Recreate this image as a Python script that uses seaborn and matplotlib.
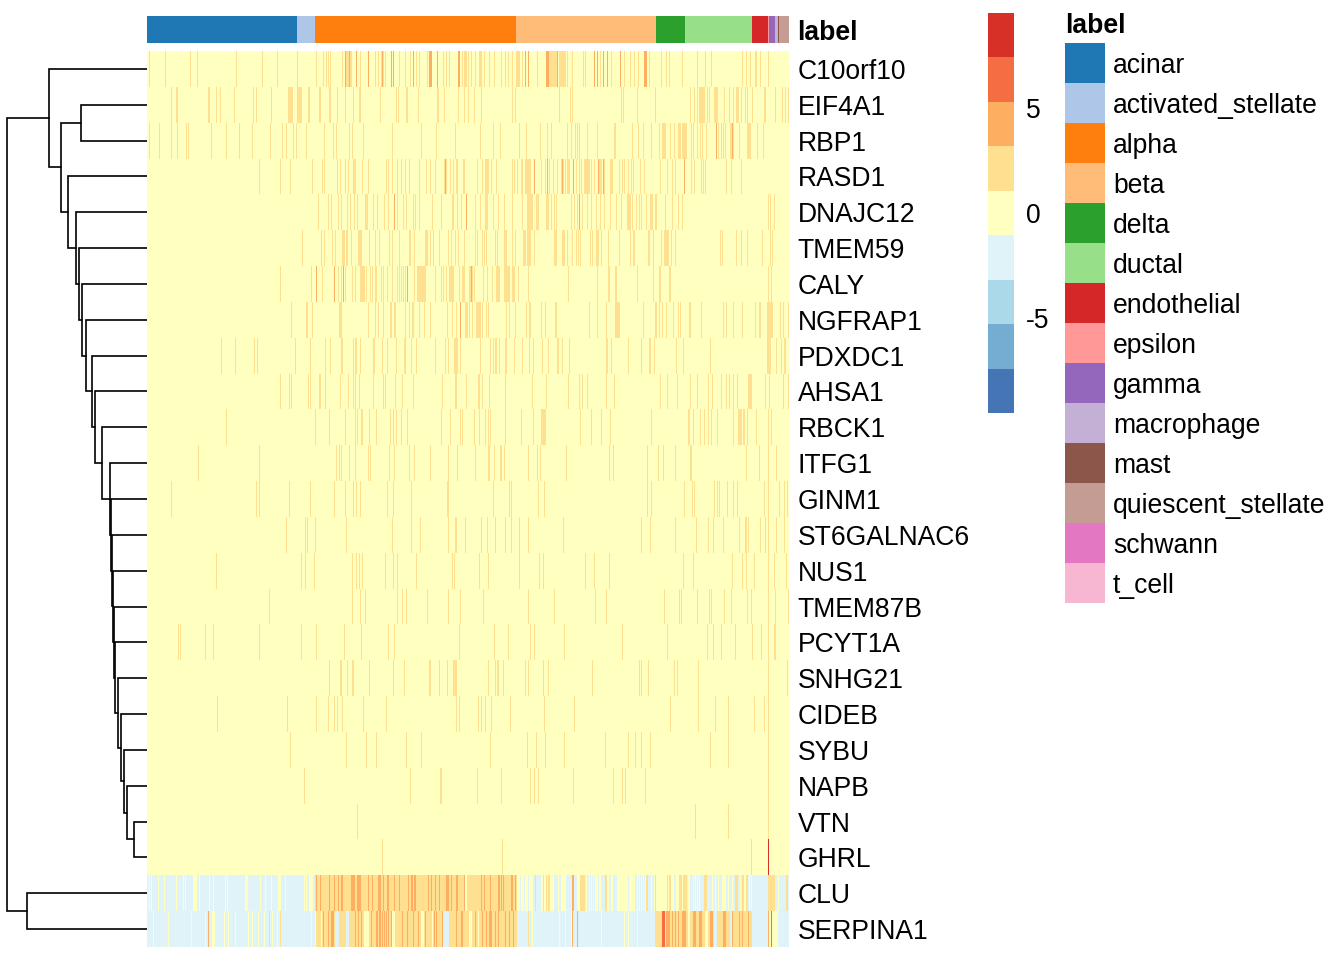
import numpy as np
import pandas as pd
import matplotlib
matplotlib.use('Agg')
import matplotlib.pyplot as plt
import seaborn as sns
from matplotlib.colors import ListedColormap

# gene rows, top to bottom
genes = ['C10orf10', 'EIF4A1', 'RBP1', 'RASD1', 'DNAJC12', 'TMEM59', 'CALY', 'NGFRAP1', 'PDXDC1',
         'AHSA1', 'RBCK1', 'ITFG1', 'GINM1', 'ST6GALNAC6', 'NUS1', 'TMEM87B', 'PCYT1A', 'SNHG21',
         'CIDEB', 'SYBU', 'NAPB', 'VTN', 'GHRL', 'CLU', 'SERPINA1']

# cell types along the top bar, and how many columns each one has
cell_types = ['acinar', 'activated_stellate', 'alpha', 'beta', 'delta', 'ductal', 'endothelial',
              'epsilon', 'gamma', 'macrophage', 'mast', 'quiescent_stellate', 'schwann', 't_cell']
type_counts = [150, 18, 201, 140, 29, 67, 16, 1, 6, 3, 1, 10, 0, 0]
type_colors = ['#1f77b4', '#aec7e8', '#ff7f0e', '#ffbb78', '#2ca02c', '#98df8a', '#d62728',
               '#ff9896', '#9467bd', '#c5b0d5', '#8c564b', '#c49c94', '#e377c2', '#f7b6d2']
heat_colors = ['#4575b4', '#74add1', '#abd9e9', '#e0f3f8', '#ffffbf', '#fee090', '#fdae61', '#f46d43', '#d73027']

# columns that stand out per gene, a tuple is a run of neighbours
C10orf10_warm = [2, 18, 43, 50, 89, 115, 130, 150, 169, 176, 179, 181, 183, 195, (198, 203), 204, 213, 228, 231,
                 (234, 236), 238, 252, 258, 263, 269, 272, 280, 296, 299, 302, 315, (317, 319), 321, 324, 328,
                 (332, 334), 337, 342, 347, 354, 358, 361, 365, (369, 372), 375, 390, (402, 406), (407, 409),
                 (412, 418), 420, 425, 436, 438, 453, 464, 477, 483, 487, 491, 502, 514, 519, 522, 535, 550,
                 558, 564, 595, 599, 603, 608, 609, 613, 621]
C10orf10_hot = [198, 202, 209, 221, 235, 244, 246, 266, (282, 284), 290, 311, 312, 378, 381, (399, 401), 410, 447,
                450, 456, 460, 473, (497, 499)]
EIF4A1_warm = [24, 29, 30, 61, 62, 69, 73, 87, 106, 109, 124, (141, 145), (150, 153), 154, 161, 162, 172, 173, 182,
               183, 190, 198, 206, 212, 213, 233, 249, 251, 259, 260, 271, 290, 291, 297, 311, 317, 321, 327, 334,
               365, 368, 412, 423, 425, 474, 476, 490, 508, 543, 547, 550, (552, 557), 560, 562, (567, 570), 577,
               582, 586, (589, 591), 594, 598, 600, 605, 617, 618, 628, 635, 638, 641]
RBP1_warm = [2, 12, 24, 30, 39, 41, 64, 79, 92, 105, 123, 135, 139, 146, 149, 159, 177, 186, 189, 202, 205, 216, 245,
             274, 289, 308, 333, 346, 353, 372, 379, 393, 400, 404, 420, 424, 428, 430, 432, 440, 450, 467, 468,
             485, 491, 496, 504, 512, (515, 518), 523, 527, (531, 533), (535, 539), 544, 546, 550, 553, 555, 559,
             571, 574, 576, 578, 583, 584, 586, 592, (600, 603), 610, 616]
RBP1_hot = [569, 585]
RASD1_warm = [112, 133, 143, 165, 175, 177, 190, 193, 198, 201, (206, 208), 215, 221, 239, 241, 245, 250, 254, 258,
              262, 272, 279, 283, 288, (297, 299), 303, 306, 309, 310, 316, 317, 330, 335, (338, 341), 344, 349, 365,
              367, 370, 374, 375, (378, 383), 394, 398, 402, 406, 410, (414, 416), 418, (420, 422), 429, 432, 434,
              (437, 442), 444, 447, (452, 454), 457, (463, 465), 472, 475, 477, 481, 484, 486, 493, 497, 513, 520,
              525, 528, 544, 547, 554, 556, 558, 579, 584, 594]
RASD1_hot = [298, 387, 400, 415, 426, 451, 456, 537]
DNAJC12_warm = [171, 181, 184, 191, 194, 200, 203, 207, 210, (218, 220), 226, 230, 237, 241, 250, 256, 259, 266, 268,
                272, 285, 294, 305, 306, 310, 314, 328, 333, (338, 340), 346, 351, 357, 365, 375, (380, 385),
                (389, 391), (399, 401), 404, 407, 409, 424, 427, 430, 435, 440, 444, 449, 453, 457, 463, 469, 474,
                (480, 483), 485, 489, 492, 494, 499, (503, 505), 508, 509, 518, 525, 531, 535, 621, 623, 627]
DNAJC12_hot = [247, 319, 432]
TMEM59_warm = [155, 174, 177, 185, 188, (195, 197), 199, 200, 204, (211, 214), 222, 228, 232, 242, 245, 252, 262, 263,
               267, (278, 280), 283, 286, 292, 301, 304, 308, 311, 317, 328, 330, 335, 337, 339, 348, 350, (357, 359),
               365, 368, (376, 378), (380, 383), 387, (407, 409), (415, 417), 420, 425, 429, 431, 433, 443, 445,
               (449, 451), 454, 461, 472, 483, 486, 487, 501, 502, 506, 514, (517, 521), 524, 528, 573, 575, 589, 594,
               600, 615, 623, 625]
CALY_warm = [133, 164, 175, 191, 194, 198, 205, 208, (213, 217), 219, 223, 225, 228, 229, 234, 236, 240, 245, 250, 252,
             254, 256, 258, 267, (270, 278), 288, 294, 296, 299, (302, 306), 312, (315, 317), (322, 325), 327, 336, 340,
             345, (349, 352), (357, 362), (365, 367), 371, 381, 421, 450, 461, 462, 468, 469, 490, 506, 512, 513, 522,
             523, 621, 624]
CALY_hot = [169, 187, 196, 260, 324]
NGFRAP1_warm = [144, 159, 160, 165, (192, 194), 221, 228, 231, 236, 243, 244, 247, 248, 258, 262, 265, 266, 272, 277,
                283, 300, 305, 309, 318, (319, 320), 322, 325, (329, 333), 335, 339, 341, 359, 362, 368, 379, 382, 383,
                394, 398, 408, 409, 442, 450, 459, (468, 472), 496, 508, 509, 512, 515, 519, 526, 531, 533, 542, 543,
                554, 576, 579, 586, 595, 608, 612, 613, (620, 625), 633, 636, 641]
NGFRAP1_hot = [313]
PDXDC1_warm = [74, 88, 107, 110, 148, 163, 178, 183, 194, 195, 206, 208, 209, 213, 226, 227, 235, 240, 249, 257, 258,
               264, 269, 288, 298, 301, (307, 310), 313, 333, 343, 346, 348, 349, 352, 358, 359, 367, 375, 382, 386, 395,
               401, 410, 411, 415, 422, 459, 460, 464, 481, 494, 502, 503, 507, 529, 536, 563, (620, 623), 629, 634, 637,
               638]
AHSA1_warm = [133, 142, 144, 161, 163, 172, 173, 178, 193, 201, 206, 208, 212, 226, 236, 238, 248, 255, 266, 295, 308,
              309, 319, 331, 332, 335, 342, 358, 385, 399, 421, 432, 435, 440, 459, 467, 513, 520, 530, 543, 550, 561,
              565, 574, 579, 582, 586, 590, (601, 604), 618, 622, 636, 641]
RBCK1_warm = [79, 168, 182, 198, 208, 210, 214, 215, 222, 229, 243, 246, 249, 254, 260, 294, 303, 313, 315, 327, 332,
              338, 341, 343, 358, 374, 386, (394, 398), 433, 444, 454, 463, 504, 541, 542, 546, 553, 557, 561, 564, 570,
              586, (591, 594), 596, 597, 600, 609, 621, 624]
ITFG1_warm = [51, 112, 189, 192, 194, 202, 208, 221, 223, 242, 247, 262, 267, 283, 301, 310, 328, 341, 342, 347, 353,
              354, 357, 381, 390, 393, 419, 462, 466, 500, 511, 516, 528, 543, 544, 599, 612, 621, 629]
GINM1_warm = [24, 109, 112, 142, 163, 187, 198, 206, 209, 213, 240, 246, 264, 300, 301, 346, 362, 364, 391, 397, 500,
              504, 537, 545, 547, 567, 570, 572, 580, 586, 590, 617, 621, 632, 637, 640]
ST6GALNAC6_warm = [139, 158, 160, 168, 199, 245, 264, 273, 301, 308, 309, 318, 334, 340, 348, 358, 364, 372, 381, 416,
                   494, 503, 528, 549, 561, 566, 576, 592, 598, 599, 601, 613, 618, 621, 629, 637]
NUS1_warm = [69, 154, 158, 167, 205, 209, 212, 215, 238, 246, 250, 269, 305, 307, 332, 341, 372, 392, 396, 438, 447,
             462, 536, 546, 585, 595, 599, 607, 621, 627, 639]
TMEM87B_warm = [122, 205, 213, 218, 250, 255, 259, 280, 301, 313, 336, 381, 407, 448, 459, 517, 532, 534, 550, 562,
                564, 577, 584, 600, 604, 621, 628, 641]
PCYT1A_warm = [31, 33, 58, 66, 112, 154, 169, 197, 214, 241, 247, 312, 347, 361, 383, 387, 417, 475, 520, 560, 566,
               574, 588, 605, 614, 621, 627, 628]
SNHG21_warm = [182, 193, 194, 200, 205, 206, 222, 246, 257, 282, 283, 292, 300, (306, 309), 341, 348, 350, 351, 356,
               378, 381, 396, 401, 445, 492, 494, 501, 527, 530, 551, 621, 640]
CIDEB_warm = [70, 140, 169, 181, 187, 190, 195, 216, 239, 309, 312, 331, 334, 338, 344, 363, 397, 427, 523, 551, 568,
              581, 607, 617, 621]
SYBU_warm = [143, 199, 219, 229, 259, 274, 343, 380, 389, 398, 417, 458, 481, 488, 494, 503, 563, 581, 621]
NAPB_warm = [157, 263, 293, 294, 330, 354, 383, 387, 391, 426, 466, 475, 478, 498, 621]
VTN_warm = [210, 548, 581, 621]
GHRL_warm = [235, 355, 604]
GHRL_red = [621]

CLU_cool = [(0, 167), (370, 641)]
CLU_pale = [2, 4, 11, 17, 29, 36, 38, (46, 49), 52, 62, 66, 78, 80, (98, 100), 113, 118, 124, (131, 133), 138, 157,
            159, (162, 165), 318, 319, (370, 372), (374, 376), (378, 380), (382, 385), 394, 395, (397, 399), (403, 406),
            411, (414, 418), (430, 433), 439, 442, 444, 446, (448, 450), 452, 453, 460, 461, 464, 465, (470, 480),
            (482, 487), 490, 492, 494, 496, 498, 504, 507, (509, 519), 521, (524, 526), 529, 530, 531, 535, (541, 542),
            546, 548, 550, 552, 565, 568, 571, (575, 578), 581, 585, 593, 597, 598, 602, 604, 631]
CLU_warm = [(168, 317), (320, 369), 388, 396, 399, 401, 402, (433, 437), 458, 459, 499, 500, 508, 520, 522, 523,
            (532, 534), (536, 539), (557, 559), (588, 590), 595, 596, 599, 600, (621, 626), 627, 639, 640]
CLU_hot = [169, 173, 182, 187, 191, 194, 195, (204, 207), (210, 213), 221, 225, (231, 233), 236, 240, 241, 247, 252, 261,
           264, 265, 267, 268, 281, 284, 288, 292, (299, 301), 304, 309, 310, 317, 334, 337, 343, 351, 352, 354, 356, 364,
           365, 368, 425, 426]

SERPINA1_cool = [(0, 167), (188, 191), (199, 201), (296, 301), (370, 507), (567, 569), 583, 584, (605, 620), (631, 641)]
SERPINA1_pale = [6, 21, 44, 58, (65, 67), 77, 81, 88, 101, 105, 111, 117, 125, 130, 164, 168, 174, (217, 221), (245, 247),
                 (274, 276), 285, (322, 324), 331, 385, 412, 418, 424, 454, 477, 481, 490, 541, 542, (558, 560), (627, 630)]
SERPINA1_warm = [(169, 173), (175, 187), (192, 198), (202, 216), (222, 244), (248, 273), (277, 284), (286, 295), (302, 321),
                 (325, 369), 122, 133, 381, (508, 540), (543, 557), (561, 566), (570, 582), (585, 604)]
SERPINA1_hot = [61, 176, 181, (184, 186), 208, 211, 214, 224, 229, 230, 232, 233, 235, 237, 239, 241, 244, 255, 260, 266, 271,
                278, 287, 289, 295, 309, 314, 315, 328, 335, 339, (342, 344), 348, 351, 358, 362, 366, 425, 430, (519, 522),
                525, 528, 531, (535, 538), (546, 548), (552, 554), (563, 565), (576, 578), 585, 592, 595, 601, 621]
SERPINA1_deep = [(515, 517), 624]

warm_cols = [C10orf10_warm, EIF4A1_warm, RBP1_warm, RASD1_warm, DNAJC12_warm, TMEM59_warm, CALY_warm, NGFRAP1_warm,
             PDXDC1_warm, AHSA1_warm, RBCK1_warm, ITFG1_warm, GINM1_warm, ST6GALNAC6_warm, NUS1_warm, TMEM87B_warm,
             PCYT1A_warm, SNHG21_warm, CIDEB_warm, SYBU_warm, NAPB_warm, VTN_warm, GHRL_warm]
hot_cols = {'C10orf10': C10orf10_hot, 'RBP1': RBP1_hot, 'RASD1': RASD1_hot, 'DNAJC12': DNAJC12_hot,
            'CALY': CALY_hot, 'NGFRAP1': NGFRAP1_hot}

# row dendrogram, like a linkage table: child, child, height. 25+k is the k-th merge
merge_a = [21, 20, 19, 18, 17, 16, 15, 14, 13, 12, 11, 10, 9, 8, 7, 6, 5, 4, 1, 3, 43, 0, 23, 46]
merge_b = [22, 25, 26, 27, 28, 29, 30, 31, 32, 33, 34, 35, 36, 37, 38, 39, 40, 41, 2, 42, 44, 45, 24, 47]
merge_h = [12.7, 19.7, 23.3, 26, 29, 32, 33, 34, 35, 36, 37, 44.7, 52.3, 54.7, 61.3, 64.7, 67.7, 70.7, 66, 79, 86.3, 98.3, 120, 140]

COOL, WARM, HOT, DEEP, RED = -2.0, 2.0, 4.0, 6.0, 8.5
LIMIT = 9.56


def put(row, cols, value):
    for c in cols:
        if isinstance(c, tuple):
            values[row, c[0]:c[1] + 1] = value
        else:
            values[row, c] = value


n_cols = sum(type_counts)
values = np.zeros((len(genes), n_cols))
for i, cols in enumerate(warm_cols):
    put(i, cols, WARM)
for name, cols in hot_cols.items():
    put(genes.index(name), cols, HOT)
put(genes.index('GHRL'), GHRL_red, RED)
clu = genes.index('CLU')
put(clu, CLU_cool, COOL)
put(clu, CLU_pale, 0)
put(clu, CLU_warm, WARM)
put(clu, CLU_hot, HOT)
serp = genes.index('SERPINA1')
put(serp, SERPINA1_cool, COOL)
put(serp, SERPINA1_warm, WARM)
put(serp, SERPINA1_pale, 0)
put(serp, SERPINA1_hot, HOT)
put(serp, SERPINA1_deep, DEEP)
expr = pd.DataFrame(values, index=genes)

sns.set_style('white')
plt.rcParams['font.family'] = ['Liberation Sans', 'DejaVu Sans']
plt.rcParams['axes.unicode_minus'] = False
plt.rcParams['text.color'] = 'black'
plt.rcParams['ytick.color'] = 'black'
plt.rcParams['axes.labelcolor'] = 'black'

W, H = 1344, 960
FS = 19.1
fig = plt.figure(figsize=(W / 100, H / 100), dpi=100)


def px_axes(x0, y0, x1, y1):
    # pixel box measured from the top left of the picture
    return fig.add_axes([x0 / W, 1 - y1 / H, (x1 - x0) / W, (y1 - y0) / H])


ax_heat = px_axes(147, 51, 789, 947)
ax_top = px_axes(147, 16, 789, 43)
ax_tree = px_axes(0, 51, 147, 947)
ax_bar = px_axes(988, 13, 1014, 413)
ax_leg = px_axes(1065, 43, 1105, 603)

sns.heatmap(expr, ax=ax_heat, cmap=ListedColormap(heat_colors), vmin=-LIMIT, vmax=LIMIT,
            xticklabels=False, yticklabels=True, cbar_ax=ax_bar, cbar_kws={'ticks': [-5, 0, 5]})
ax_heat.yaxis.tick_right()
ax_heat.tick_params(axis='y', length=0, pad=6.2, labelsize=FS, labelrotation=0)
ax_heat.set_xlabel('')
ax_heat.set_ylabel('')

ax_bar.tick_params(length=0, pad=8.5, labelsize=FS, labelcolor='black')

type_cmap = ListedColormap(type_colors)
top_row = np.repeat(np.arange(len(cell_types)), type_counts)[None, :]
sns.heatmap(top_row, ax=ax_top, cmap=type_cmap, vmin=0, vmax=len(cell_types) - 1, cbar=False,
            xticklabels=False, yticklabels=['label'])
ax_top.yaxis.tick_right()
ax_top.tick_params(axis='y', length=0, pad=6, labelsize=FS, labelrotation=0)
for t in ax_top.get_yticklabels():
    t.set_fontweight('bold')

sns.heatmap(np.arange(len(cell_types))[:, None], ax=ax_leg, cmap=type_cmap, cbar=False,
            xticklabels=False, yticklabels=cell_types)
ax_leg.yaxis.tick_right()
ax_leg.tick_params(axis='y', length=0, pad=5.8, labelsize=FS, labelrotation=0)
ax_leg.set_title('label', loc='left', fontweight='bold', fontsize=FS, pad=7.5, color='black')

# dendrogram, leaves sit on the row centres
node_y = [i + 0.5 for i in range(len(genes))]
node_h = [0.0] * len(genes)
for a, b, h in zip(merge_a, merge_b, merge_h):
    ax_tree.plot([node_h[a], h, h, node_h[b]], [node_y[a], node_y[a], node_y[b], node_y[b]],
                 color='black', lw=1.2, solid_joinstyle='miter')
    node_y.append((node_y[a] + node_y[b]) / 2)
    node_h.append(h)
ax_tree.set_xlim(147, 0)
ax_tree.set_ylim(len(genes), 0)
ax_tree.axis('off')

fig.savefig('out.png', dpi=100)
